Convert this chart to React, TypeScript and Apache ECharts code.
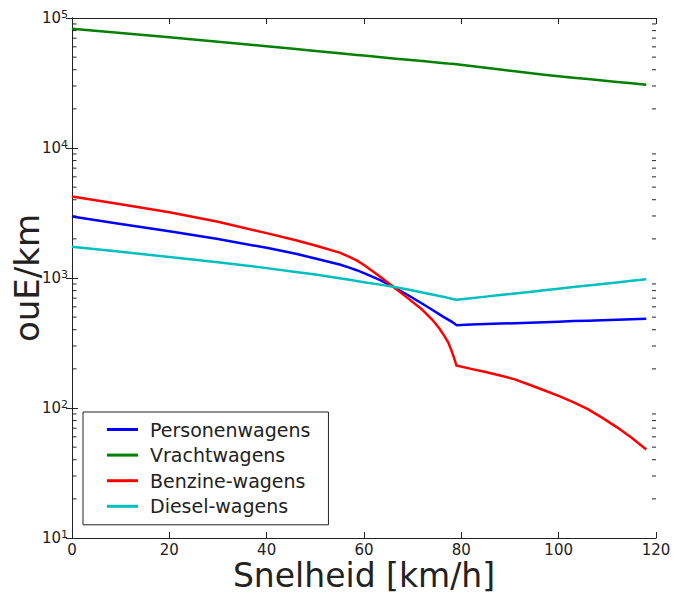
import React, { useEffect, useRef } from "react";
import * as echarts from "echarts";

// Speed grid shared by every series [km/h]
const speeds = [0, 10, 20, 30, 40, 46, 50, 55, 57, 58.5, 60, 63, 66, 69, 72, 74, 75.5, 76.5, 77.3, 78, 78.5, 79, 82, 85, 88, 91, 94, 97, 100, 103, 106, 109, 112, 115, 118];

// Cost per km for each vehicle group
const personenwagens = [2968, 2606, 2291, 1995, 1706, 1535, 1413, 1271, 1202, 1148, 1091, 977, 857, 740, 634, 570, 525, 498, 479, 462, 449, 434, 438, 442, 446, 449, 453, 457, 461, 466, 469, 473, 478, 482, 485];
const vrachtwagens = [82600, 76600, 71100, 65600, 60600, 57700, 55800, 53600, 52700, 52000, 51400, 50200, 48900, 47700, 46600, 45800, 45300, 44900, 44600, 44400, 44200, 44000, 42670, 41390, 40140, 38930, 37750, 36610, 35600, 34730, 33880, 33050, 32250, 31460, 30700];
const benzineWagens = [4236, 3698, 3199, 2704, 2213, 1950, 1778, 1567, 1455, 1365, 1259, 1047, 857, 700, 569, 479, 409, 359, 320, 275, 243, 212, 200, 189, 178, 166, 151, 137, 124, 111, 98, 84, 71, 59, 48];
const dieselWagens = [1742, 1592, 1452, 1321, 1191, 1114, 1064, 995, 968, 948, 929, 893, 857, 815, 773, 746, 726, 713, 703, 693, 687, 681, 700, 719, 740, 760, 782, 805, 828, 851, 875, 899, 925, 951, 977];

const seriesNames = ["Personenwagens", "Vrachtwagens", "Benzine-wagens", "Diesel-wagens"];
const seriesColors = ["#0000ff", "#008000", "#ff0000", "#00bfbf"];
const seriesValues = [personenwagens, vrachtwagens, benzineWagens, dieselWagens];

// Minor log ticks (2..9 × 10^k) on the left and right frame edges
const minorTickValues: number[] = [];
for (let k = 1; k <= 4; k++) {
  for (let m = 2; m <= 9; m++) minorTickValues.push(m * Math.pow(10, k));
}

const FONT = "DejaVu Sans";
const INK = "#222";

function minorTickSeries(side: "left" | "right") {
  return {
    type: "custom",
    name: `minorTicks-${side}`,
    silent: true,
    clip: false,
    data: minorTickValues.map((v) => [60, v]),
    renderItem: (params: any, api: any) => {
      const cs = params.coordSys;
      const y = api.coord([60, api.value(1)])[1];
      const len = 4;
      const x0 = side === "left" ? cs.x + 0.5 : cs.x + cs.width - len;
      return {
        type: "rect",
        shape: { x: x0, y: y - 0.5, width: len, height: 1 },
        style: { fill: INK },
      };
    },
    z: 5,
  };
}

export default function App() {
  const ref = useRef<HTMLDivElement>(null);

  useEffect(() => {
    if (!ref.current) return;
    const chart = echarts.init(ref.current, undefined, { renderer: "svg" });

    const lineSeries = seriesNames.map((name, i) => ({
      name,
      type: "line",
      data: speeds.map((s, j) => [s, seriesValues[i][j]]),
      showSymbol: false,
      symbol: "none",
      smooth: false,
      color: seriesColors[i],
      lineStyle: { width: 2.5, color: seriesColors[i], join: "round" },
      z: 3,
    }));

    const yLabel = {
      formatter: (v: number) => `{b|10}{s|${Math.round(Math.log10(v))}}`,
      margin: 4,
      rich: {
        b: { fontSize: 15, fontFamily: FONT, color: INK, lineHeight: 15, verticalAlign: "bottom" },
        s: { fontSize: 11, fontFamily: FONT, color: INK, lineHeight: 11, padding: [0, 0, 6, 0], verticalAlign: "bottom" },
      },
    };

    chart.setOption({
      animation: false,
      backgroundColor: "#fff",
      grid: { left: 72, right: 19, top: 18, bottom: 58, containLabel: false, outerBoundsMode: "none" },
      legend: {
        data: seriesNames.map((n) => ({ name: n, icon: "rect" })),
        orient: "vertical",
        left: 83,
        top: 412,
        padding: [8, 18, 9, 24],
        itemWidth: 31,
        itemHeight: 3,
        itemGap: 6.6,
        borderColor: INK,
        borderWidth: 1,
        backgroundColor: "#fff",
        selectedMode: false,
        textStyle: { fontSize: 19, fontFamily: FONT, color: INK, lineHeight: 19, padding: [0, 0, 0, 7] },
      },
      xAxis: [
        {
          type: "value",
          min: 0,
          max: 120,
          interval: 20,
          position: "bottom",
          name: "Snelheid [km/h]",
          nameLocation: "middle",
          nameGap: 22,
          nameMoveOverlap: false,
          nameTextStyle: { fontSize: 33, fontFamily: FONT, color: INK, verticalAlign: "top", lineHeight: 30 },
          axisLine: { show: true, lineStyle: { color: INK, width: 1 } },
          axisTick: { show: true, inside: true, length: 6, lineStyle: { color: INK } },
          axisLabel: { fontSize: 15, fontFamily: FONT, color: INK, margin: 5, lineHeight: 13 },
          splitLine: { show: false },
        },
        {
          type: "value",
          min: 0,
          max: 120,
          interval: 20,
          position: "top",
          axisLine: { show: true, lineStyle: { color: INK, width: 1 } },
          axisTick: { show: true, inside: true, length: 6, lineStyle: { color: INK } },
          axisLabel: { show: false },
          splitLine: { show: false },
        },
      ],
      yAxis: [
        {
          type: "log",
          logBase: 10,
          min: 10,
          max: 100000,
          splitNumber: 4,
          position: "left",
          name: "ouE/km",
          nameLocation: "middle",
          nameRotate: 90,
          nameGap: 28,
          nameMoveOverlap: false,
          nameTextStyle: { fontSize: 34, fontFamily: FONT, color: INK, lineHeight: 34 },
          axisLine: { show: true, lineStyle: { color: INK, width: 1 } },
          axisTick: { show: true, inside: true, length: 6, lineStyle: { color: INK } },
          axisLabel: yLabel,
          splitLine: { show: false },
        },
        {
          type: "log",
          logBase: 10,
          min: 10,
          max: 100000,
          splitNumber: 4,
          position: "right",
          axisLine: { show: true, lineStyle: { color: INK, width: 1 } },
          axisTick: { show: true, inside: true, length: 6, lineStyle: { color: INK } },
          axisLabel: { show: false },
          splitLine: { show: false },
        },
      ],
      series: [...lineSeries, minorTickSeries("left"), minorTickSeries("right")],
    });

    return () => chart.dispose();
  }, []);

  return (
    <div
      ref={ref}
      style={{ position: "fixed", left: 0, top: 0, width: 675, height: 596, background: "#fff" }}
    />
  );
}
